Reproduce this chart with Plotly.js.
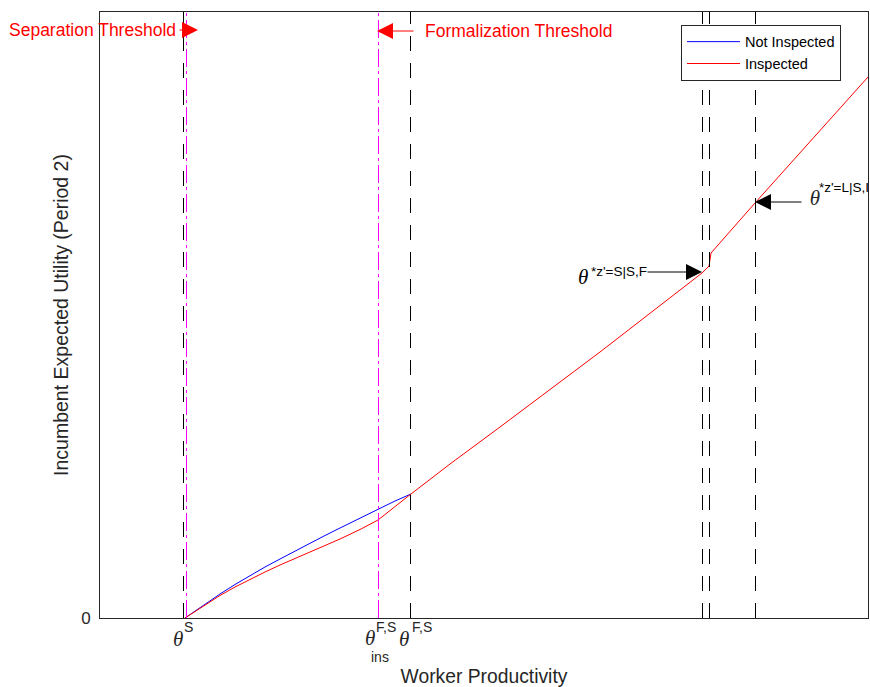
<!DOCTYPE html>
<html>
<head>
<meta charset="utf-8">
<script src="https://cdn.plot.ly/plotly-3.0.1.min.js"></script>
<style>html,body{margin:0;padding:0;background:#fff;}#chart{width:870px;height:687px;}</style>
</head>
<body>
<div id="chart"></div>
<script>
// ---- data (x: worker productivity, y: incumbent expected utility) ----
const productivityNI = [0.85, 0.95, 1.05, 1.20, 1.35, 1.50, 1.65, 1.80, 1.95, 2.10, 2.25, 2.40, 2.60, 2.78, 2.95, 3.11];
const utilNotInspected = [0, 0.07, 0.14, 0.24, 0.335, 0.425, 0.51, 0.59, 0.67, 0.75, 0.825, 0.90, 1.00, 1.09, 1.17, 1.24];
const productivityI = [0.85, 0.95, 1.05, 1.20, 1.35, 1.50, 1.65, 1.80, 1.95, 2.10, 2.25, 2.40, 2.60, 2.78, 3.11, 3.50, 4.00, 5.00, 6.02, 6.09, 6.11, 6.55, 7.68];
const utilInspected = [0, 0.065, 0.13, 0.225, 0.31, 0.387, 0.46, 0.53, 0.595, 0.66, 0.725, 0.79, 0.885, 0.98, 1.24, 1.54, 1.91, 2.66, 3.45, 3.52, 3.65, 4.15, 5.41];

// thresholds
const dashedThresholds = [0.835, 3.105, 6.025, 6.095, 6.555];
const dashDotThresholds = [0.865, 2.785];
const thetaS = 0.85, thetaInsFS = 2.78, thetaFS = 3.11;
const thetaSSF = 6.02, thetaLSI = 6.55;
const yTickVals = [0];
const yTickText = ['0'];

const axisColor = '#262626';
const thetaFont = {family: 'Liberation Serif, serif', size: 21, color: axisColor};
const supFont = {family: 'Liberation Sans, Arial, sans-serif', size: 14, color: axisColor};

const traces = [
  {x: productivityNI, y: utilNotInspected, mode: 'lines', name: 'Not Inspected',
   line: {color: '#0000ff', width: 1}},
  {x: productivityI, y: utilInspected, mode: 'lines', name: 'Inspected',
   line: {color: '#ff0000', width: 1}},
  // clipped label at right edge
  {x: [thetaLSI + 0.60], y: [4.18], mode: 'text', text: ['<i>θ</i>'], textposition: 'middle center',
   textfont: thetaFont, showlegend: false, hoverinfo: 'skip', cliponaxis: true},
  {x: [thetaLSI + 0.64], y: [4.29], mode: 'text', text: ["*z'=L|S,I"], textposition: 'middle right',
   textfont: {family: 'Liberation Sans, Arial, sans-serif', size: 13.5, color: '#000'}, showlegend: false, hoverinfo: 'skip', cliponaxis: true}
];

const shapes = [];
dashedThresholds.forEach(v => shapes.push({type: 'line', xref: 'x', yref: 'paper', x0: v, x1: v, y0: 0, y1: 1,
  line: {color: '#000', width: 1, dash: '15px,12px'}}));
dashDotThresholds.forEach(v => shapes.push({type: 'line', xref: 'x', yref: 'paper', x0: v, x1: v, y0: 0, y1: 1,
  line: {color: '#ff00ff', width: 1, dash: '18px,4px,3px,4px'}}));

function py(p) { return (618 - p) / 606; } // paper y from pixel helper for labels

const arrowStyle = {showarrow: true, arrowhead: 2, arrowsize: 3.2, arrowwidth: 1, standoff: 0, text: '', axref: 'x', ayref: 'y', xref: 'x', yref: 'y'};

const annotations = [
  // x tick labels
  {xref: 'x', yref: 'paper', x: thetaS - 0.07, y: py(639), text: '<i>θ</i>', showarrow: false, font: thetaFont, xanchor: 'center', yanchor: 'middle'},
  {xref: 'x', yref: 'paper', x: thetaS - 0.03, y: py(627), text: 'S', showarrow: false, font: supFont, xanchor: 'left', yanchor: 'middle'},
  {xref: 'x', yref: 'paper', x: thetaInsFS - 0.085, y: py(638), text: '<i>θ</i>', showarrow: false, font: thetaFont, xanchor: 'center', yanchor: 'middle'},
  {xref: 'x', yref: 'paper', x: thetaInsFS - 0.045, y: py(627), text: 'F,S', showarrow: false, font: supFont, xanchor: 'left', yanchor: 'middle'},
  {xref: 'x', yref: 'paper', x: thetaInsFS - 0.09, y: py(657), text: 'ins', showarrow: false, font: supFont, xanchor: 'left', yanchor: 'middle'},
  {xref: 'x', yref: 'paper', x: thetaFS - 0.07, y: py(639), text: '<i>θ</i>', showarrow: false, font: thetaFont, xanchor: 'center', yanchor: 'middle'},
  {xref: 'x', yref: 'paper', x: thetaFS - 0.01, y: py(627), text: 'F,S', showarrow: false, font: supFont, xanchor: 'left', yanchor: 'middle'},
  // threshold labels
  {xref: 'x', yref: 'y', x: thetaS - 0.07, y: 5.88, text: 'Separation Threshold', showarrow: false, xanchor: 'right', yanchor: 'middle',
   font: {family: 'Liberation Sans, Arial, sans-serif', size: 17.5, color: '#ff0000'}},
  Object.assign({}, arrowStyle, {x: 0.98, y: 5.88, ax: 0.78, ay: 5.88, arrowcolor: '#ff0000'}),
  {xref: 'x', yref: 'y', x: thetaFS + 0.12, y: 5.87, text: 'Formalization Threshold', showarrow: false, xanchor: 'left', yanchor: 'middle',
   font: {family: 'Liberation Sans, Arial, sans-serif', size: 17.5, color: '#ff0000'}},
  Object.assign({}, arrowStyle, {x: 2.77, y: 5.87, ax: 3.15, ay: 5.87, arrowcolor: '#ff0000'}),
  // theta*z'=S|S,F
  {xref: 'x', yref: 'y', x: thetaSSF - 1.195, y: 3.41, text: '<i>θ</i>', showarrow: false, font: {family: 'Liberation Serif, serif', size: 21, color: '#000'}, xanchor: 'center', yanchor: 'middle'},
  {xref: 'x', yref: 'y', x: thetaSSF - 1.13, y: 3.47, text: "*z'=S|S,F", showarrow: false, font: {family: 'Liberation Sans, Arial, sans-serif', size: 13.5, color: '#000'}, xanchor: 'left', yanchor: 'middle'},
  Object.assign({}, arrowStyle, {x: thetaSSF, y: 3.46, ax: 5.46, ay: 3.46, arrowcolor: '#000'}),
  Object.assign({}, arrowStyle, {x: thetaLSI, y: 4.16, ax: 7.03, ay: 4.16, arrowcolor: '#000'})
];

const layout = {
  width: 870, height: 687,
  margin: {l: 100, r: 2, t: 12, b: 69, pad: 0},
  paper_bgcolor: '#fff', plot_bgcolor: '#fff',
  font: {family: 'Liberation Sans, Arial, sans-serif', color: axisColor},
  showlegend: true,
  legend: {x: 0.7565, y: 0.979, xanchor: 'left', yanchor: 'top', bgcolor: '#fff',
           bordercolor: axisColor, borderwidth: 1, itemwidth: 53, font: {size: 14.5, color: '#000'}, tracegroupgap: 0},
  xaxis: {range: [0, 7.68], showgrid: false, zeroline: false, showline: true, mirror: true,
          linecolor: axisColor, linewidth: 1, tickvals: [], showticklabels: false, fixedrange: true,
          title: {text: 'Worker Productivity', font: {size: 19.3, color: axisColor}, standoff: 51}},
  yaxis: {range: [0, 6.06], showgrid: false, zeroline: false, showline: true, mirror: true,
          linecolor: axisColor, linewidth: 1, tickvals: yTickVals, ticktext: yTickText, ticks: '',
          ticklabelstandoff: 5,
          tickfont: {size: 17, color: axisColor}, fixedrange: true,
          title: {text: 'Incumbent Expected Utility (Period 2)', font: {size: 19.5, color: axisColor}, standoff: 7}},
  shapes: shapes,
  annotations: annotations
};

Plotly.newPlot('chart', traces, layout, {staticPlot: true, displayModeBar: false});
</script>
</body>
</html>
